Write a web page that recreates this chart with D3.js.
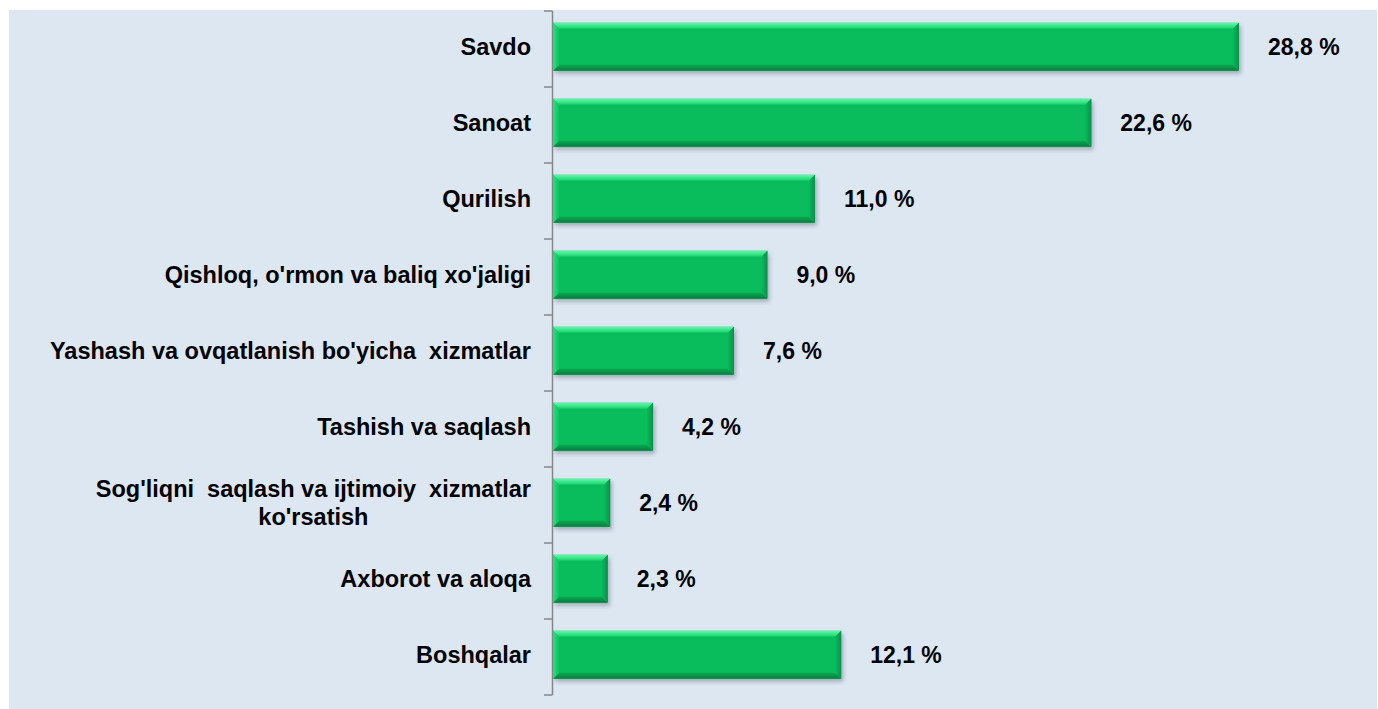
<!DOCTYPE html>
<html>
<head>
<meta charset="utf-8">
<script src="https://cdn.jsdelivr.net/npm/d3@7"></script>
<style>
  body { margin: 0; background: #ffffff; }
  svg { display: block; font-family: "Liberation Sans", Arial, sans-serif; }
</style>
</head>
<body>
<svg id="chart" width="1378" height="709"></svg>
<script>
// categories (top to bottom) and shares in percent
const categories = [
    "Savdo",
    "Sanoat",
    "Qurilish",
    "Qishloq, o'rmon va baliq xo'jaligi",
    "Yashash va ovqatlanish bo'yicha  xizmatlar",
    "Tashish va saqlash",
    "Sog'liqni  saqlash va ijtimoiy  xizmatlar\nko'rsatish",
    "Axborot va aloqa",
    "Boshqalar"
];
const shares = [28.8, 22.6, 11.0, 9.0, 7.6, 4.2, 2.4, 2.3, 12.1];

const data = categories.map((c, i) => ({ name: c, value: shares[i] }));

const svg = d3.select("#chart");
const W = 1378, H = 709;

// panel background
svg.append("rect")
    .attr("x", 9).attr("y", 10)
    .attr("width", W - 10).attr("height", H - 10)
    .attr("fill", "#dde7f2");

const axisX = 553;
const plotTop = 11, plotBottom = 695;

const y = d3.scaleBand()
    .domain(categories)
    .range([plotTop, plotBottom])
    .paddingInner(0.37)
    .paddingOuter(0.185)
    .align(0.42);

const x = d3.scaleLinear()
    .domain([0, 28.8])
    .range([axisX, 1239]);

// defs: shadow + bevel gradients
const defs = svg.append("defs");
const shadow = defs.append("filter").attr("id", "shadow")
    .attr("x", "-10%").attr("y", "-20%").attr("width", "130%").attr("height", "160%");
shadow.append("feGaussianBlur").attr("stdDeviation", 2);

function grad(id, x2, y2, stops) {
    const g = defs.append("linearGradient").attr("id", id)
        .attr("x1", 0).attr("y1", 0).attr("x2", x2).attr("y2", y2);
    stops.forEach(s => g.append("stop").attr("offset", s[0]).attr("stop-color", s[1]));
}
grad("gTop", 0, 1, [[0, "#5ff5a6"], [0.5, "#3ee88c"], [1, "#16cc69"]]);
grad("gBottom", 0, 1, [[0, "#0aa853"], [1, "#067f3c"]]);
grad("gRight", 1, 0, [[0, "#0bb85a"], [1, "#07934a"]]);
grad("gLeft", 1, 0, [[0, "#31df83"], [1, "#0dc062"]]);

const bev = 6;
const bars = svg.append("g").selectAll("g")
    .data(data)
    .join("g");

bars.append("rect")
    .attr("x", d => x(0) + 2)
    .attr("y", d => y(d.name) + 3)
    .attr("width", d => x(d.value) - x(0))
    .attr("height", y.bandwidth())
    .attr("fill", "#6e7c8c")
    .attr("opacity", 0.55)
    .attr("filter", "url(#shadow)");

bars.append("rect")
    .attr("x", x(0))
    .attr("y", d => y(d.name))
    .attr("width", d => x(d.value) - x(0))
    .attr("height", y.bandwidth())
    .attr("fill", "#0abd5c");

// bevel edges
bars.append("polygon")
    .attr("fill", "url(#gTop)")
    .attr("points", d => {
        const x0 = x(0), x1 = x(d.value), y0 = y(d.name);
        return [[x0, y0], [x1, y0], [x1 - bev, y0 + bev], [x0 + bev, y0 + bev]].join(" ");
    });
bars.append("polygon")
    .attr("fill", "url(#gBottom)")
    .attr("points", d => {
        const x0 = x(0), x1 = x(d.value), y1 = y(d.name) + y.bandwidth();
        return [[x0 + bev, y1 - bev], [x1 - bev, y1 - bev], [x1, y1], [x0, y1]].join(" ");
    });
bars.append("polygon")
    .attr("fill", "url(#gRight)")
    .attr("points", d => {
        const x1 = x(d.value), y0 = y(d.name), y1 = y0 + y.bandwidth();
        return [[x1 - bev, y0 + bev], [x1, y0], [x1, y1], [x1 - bev, y1 - bev]].join(" ");
    });
bars.append("polygon")
    .attr("fill", "url(#gLeft)")
    .attr("points", d => {
        const x0 = x(0), y0 = y(d.name), y1 = y0 + y.bandwidth();
        return [[x0, y0], [x0 + bev, y0 + bev], [x0 + bev, y1 - bev], [x0, y1]].join(" ");
    });

// value labels
const fmt = d3.format(".1f");
svg.append("g").selectAll("text")
    .data(data)
    .join("text")
    .attr("x", d => x(d.value) + 29)
    .attr("y", d => y(d.name) + y.bandwidth() / 2)
    .attr("dy", "0.35em")
    .attr("font-size", 23)
    .attr("font-weight", "bold")
    .attr("fill", "#000")
    .text(d => fmt(d.value).replace(".", ",") + " %");

// axis line with ticks at band boundaries
const axisG = svg.append("g");
axisG.append("line")
    .attr("x1", axisX - 0.5).attr("x2", axisX - 0.5)
    .attr("y1", plotTop).attr("y2", plotBottom)
    .attr("stroke", "#868686").attr("stroke-width", 1.5);
const step = y.step();
axisG.selectAll(".tick")
    .data(d3.range(categories.length + 1))
    .join("line")
    .attr("class", "tick")
    .attr("x1", axisX - 9).attr("x2", axisX - 0.5)
    .attr("y1", i => plotTop + i * (plotBottom - plotTop) / categories.length)
    .attr("y2", i => plotTop + i * (plotBottom - plotTop) / categories.length)
    .attr("stroke", "#868686").attr("stroke-width", 1.5);

// category labels
const labelRight = 531;
svg.append("g").selectAll("text")
    .data(data)
    .join("text")
    .attr("font-size", 23.5)
    .attr("font-weight", "bold")
    .attr("fill", "#000")
    .each(function(d) {
        const t = d3.select(this);
        const lines = d.name.split("\n");
        const cy = y(d.name) + y.bandwidth() / 2;
        const lh = 28;
        lines.forEach((ln, i) => {
            t.append("tspan")
                .attr("y", cy + (i - (lines.length - 1) / 2) * lh)
                .attr("dy", "0.35em")
                .style("white-space", "pre")
                .text(ln);
        });
        if (lines.length === 1) {
            t.attr("text-anchor", "end").selectAll("tspan").attr("x", labelRight);
        } else {
            const widths = [];
            t.selectAll("tspan").each(function() { widths.push(this.getComputedTextLength()); });
            const cx = labelRight - d3.max(widths) / 2;
            t.attr("text-anchor", "middle").selectAll("tspan").attr("x", cx);
        }
    });
</script>
</body>
</html>
